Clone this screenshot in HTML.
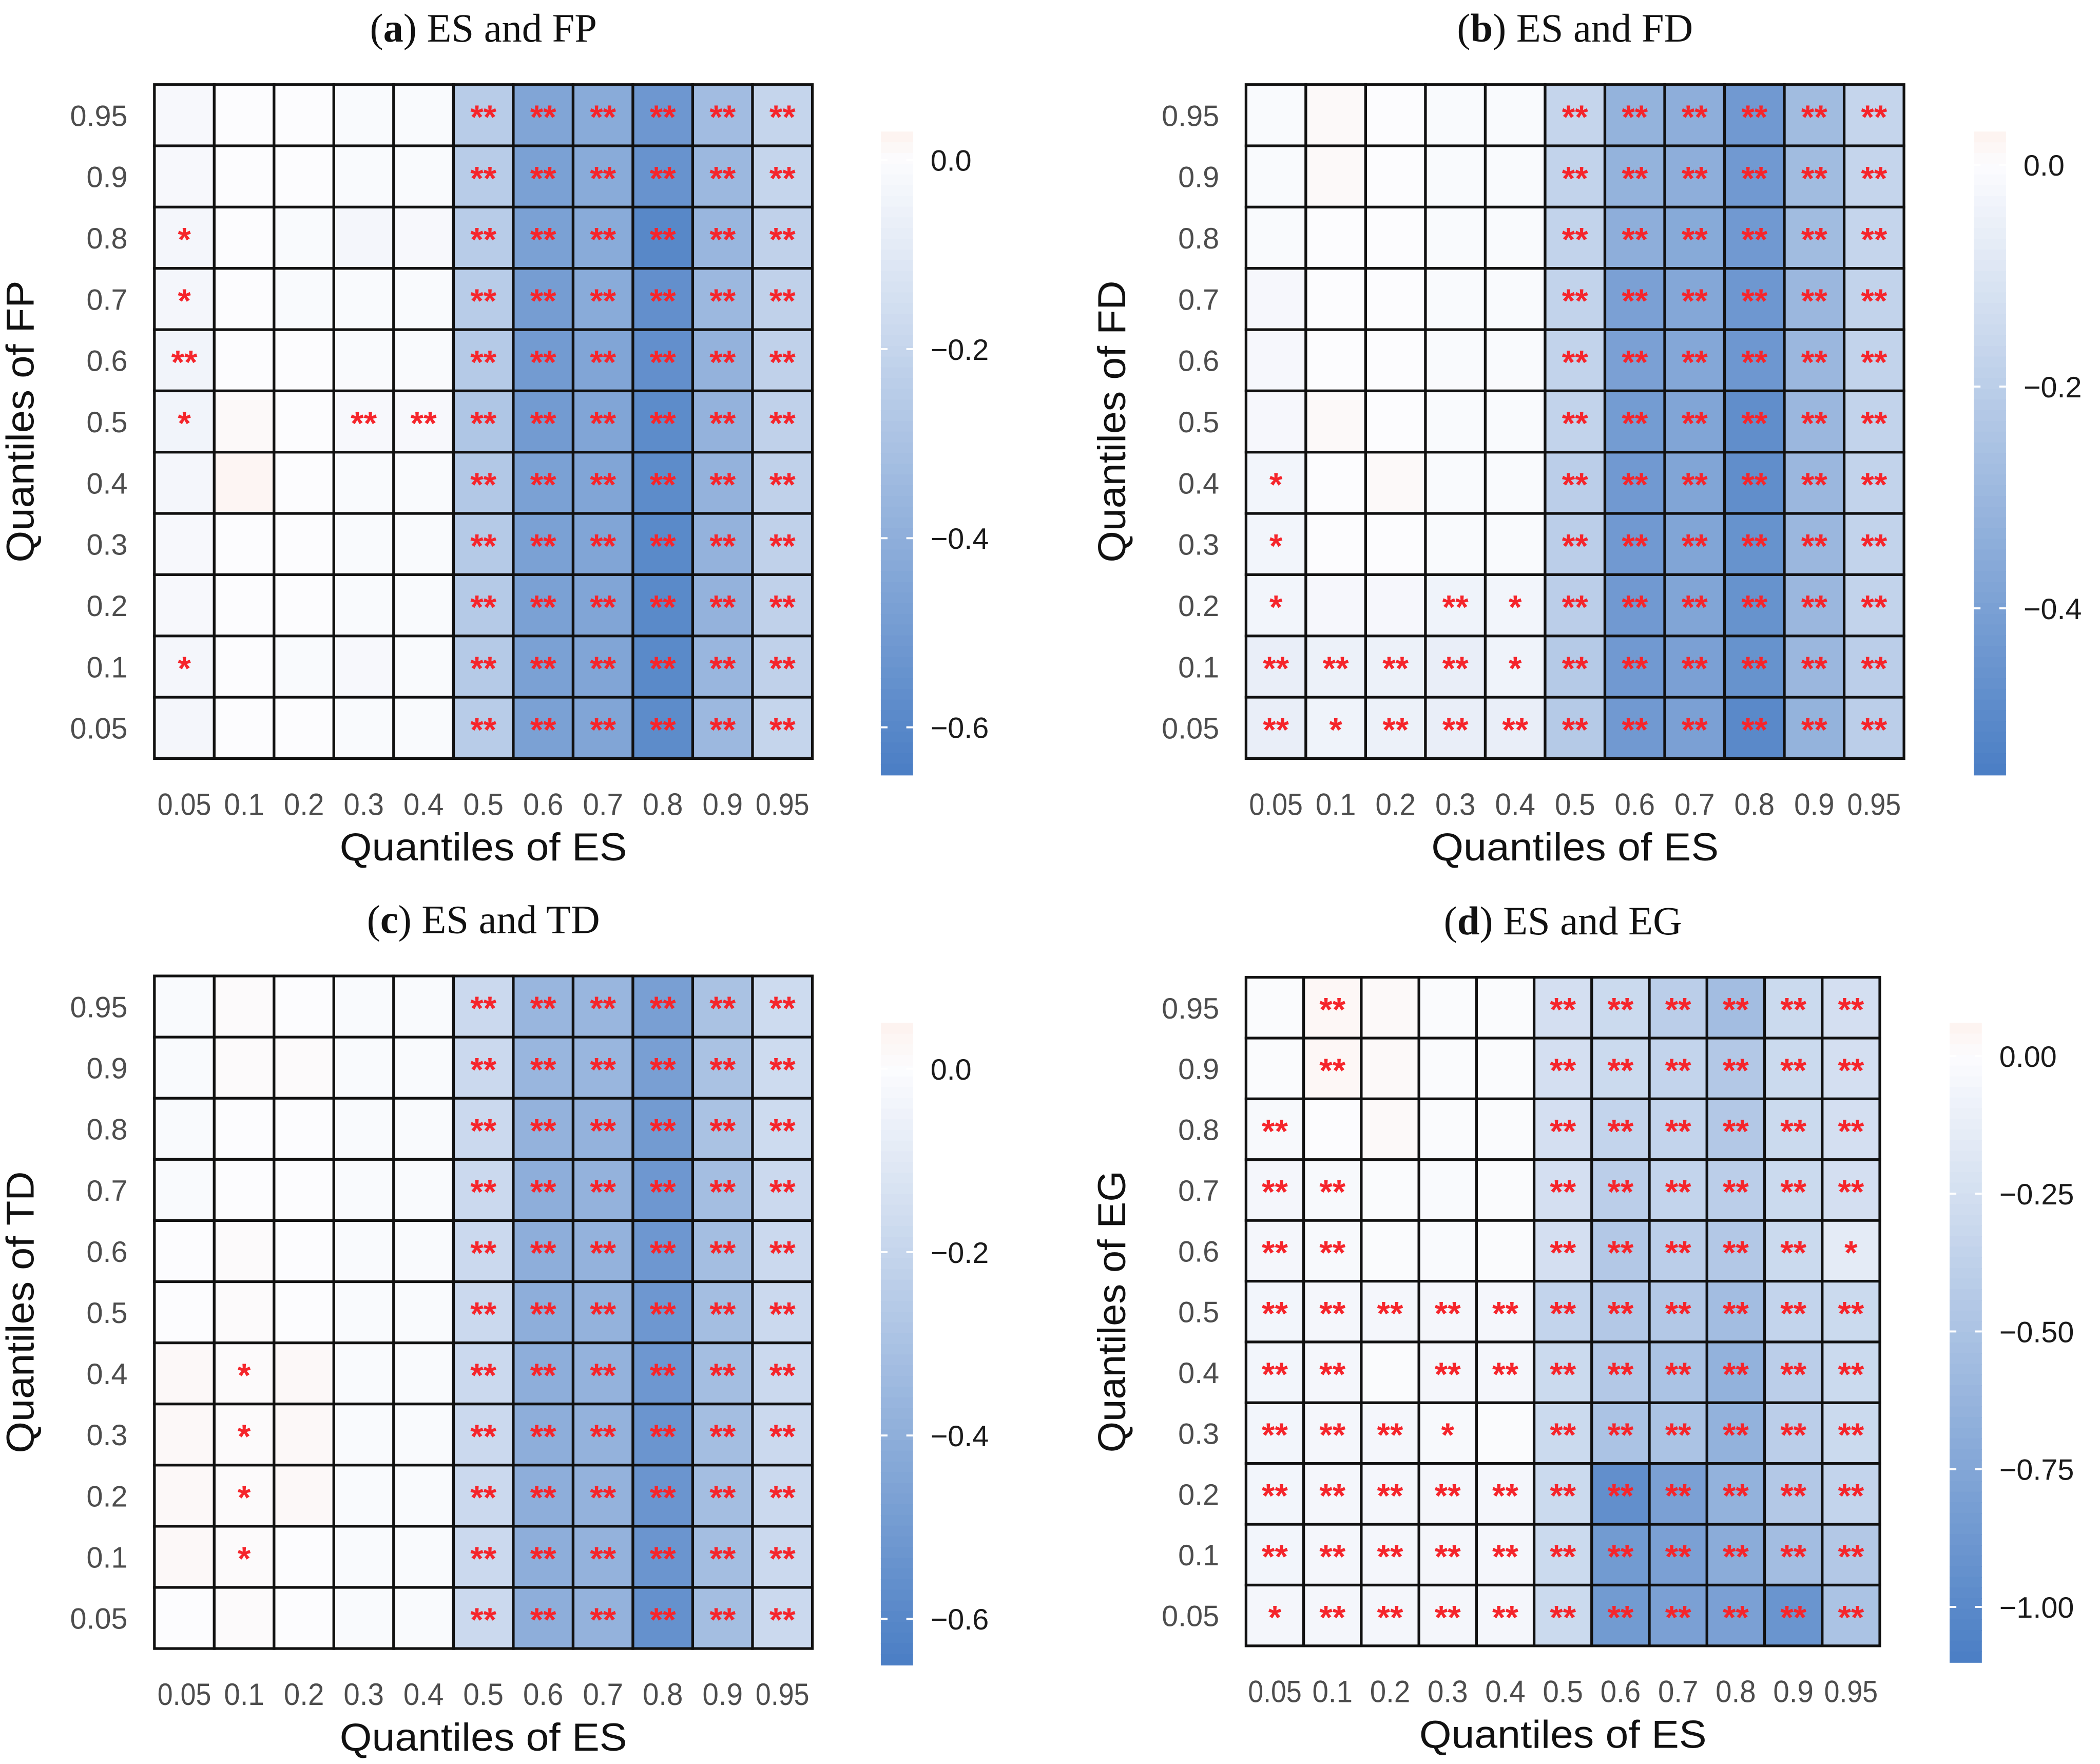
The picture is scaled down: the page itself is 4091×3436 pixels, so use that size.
<!DOCTYPE html>
<html><head><meta charset="utf-8"><style>
html,body{margin:0;padding:0;background:#fff;}
svg{display:block;}
</style></head><body>
<svg id="chart" xmlns="http://www.w3.org/2000/svg" width="4091" height="3436" viewBox="0 0 1564 1314" preserveAspectRatio="none">
<rect width="1564" height="1314" fill="#fff"/>
</svg>
<script>
const xCats = ["0.05","0.1","0.2","0.3","0.4","0.5","0.6","0.7","0.8","0.9","0.95"];
const yCats = ["0.95","0.9","0.8","0.7","0.6","0.5","0.4","0.3","0.2","0.1","0.05"];
const valsA = [
[-0.02,0,0,-0.01,-0.01,-0.25,-0.45,-0.42,-0.52,-0.33,-0.2],
[-0.02,0,0,-0.01,-0.01,-0.25,-0.47,-0.42,-0.54,-0.35,-0.2],
[-0.03,0,-0.01,-0.03,-0.02,-0.25,-0.47,-0.42,-0.6,-0.36,-0.22],
[-0.03,0,-0.01,-0.01,-0.01,-0.25,-0.49,-0.42,-0.56,-0.35,-0.22],
[-0.04,0,0,-0.01,-0.01,-0.26,-0.5,-0.45,-0.56,-0.38,-0.22],
[-0.04,0.01,0,-0.02,-0.02,-0.28,-0.5,-0.45,-0.58,-0.38,-0.22],
[-0.03,0.02,0,-0.01,-0.01,-0.27,-0.47,-0.45,-0.58,-0.38,-0.22],
[-0.02,0,0,-0.01,-0.01,-0.26,-0.47,-0.45,-0.59,-0.38,-0.22],
[-0.02,0,0,-0.01,-0.01,-0.26,-0.47,-0.45,-0.59,-0.38,-0.22],
[-0.03,0,-0.01,-0.02,-0.01,-0.26,-0.47,-0.45,-0.59,-0.36,-0.22],
[-0.03,0,0,-0.01,-0.01,-0.25,-0.47,-0.45,-0.58,-0.35,-0.2]];
const starsA = [
["","","","","","**","**","**","**","**","**"],
["","","","","","**","**","**","**","**","**"],
["*","","","","","**","**","**","**","**","**"],
["*","","","","","**","**","**","**","**","**"],
["**","","","","","**","**","**","**","**","**"],
["*","","","**","**","**","**","**","**","**","**"],
["","","","","","**","**","**","**","**","**"],
["","","","","","**","**","**","**","**","**"],
["","","","","","**","**","**","**","**","**"],
["*","","","","","**","**","**","**","**","**"],
["","","","","","**","**","**","**","**","**"]];
const valsB = [
[-0.01,0.01,0,-0.01,-0.01,-0.17,-0.32,-0.34,-0.43,-0.28,-0.17],
[-0.01,0.01,0,-0.01,-0.01,-0.18,-0.32,-0.34,-0.43,-0.28,-0.17],
[-0.01,0,0,-0.01,-0.01,-0.18,-0.34,-0.36,-0.43,-0.28,-0.17],
[-0.02,0,0,-0.01,-0.01,-0.18,-0.4,-0.37,-0.44,-0.3,-0.18],
[-0.02,0,0,-0.01,-0.01,-0.18,-0.4,-0.37,-0.44,-0.3,-0.18],
[-0.02,0.01,0,-0.01,-0.01,-0.18,-0.42,-0.38,-0.48,-0.3,-0.18],
[-0.03,0,0.01,-0.01,-0.01,-0.2,-0.43,-0.38,-0.48,-0.3,-0.18],
[-0.03,0,0,-0.01,-0.01,-0.2,-0.43,-0.38,-0.46,-0.3,-0.18],
[-0.03,-0.02,-0.02,-0.04,-0.03,-0.2,-0.43,-0.38,-0.46,-0.3,-0.18],
[-0.06,-0.05,-0.05,-0.06,-0.04,-0.22,-0.43,-0.4,-0.46,-0.3,-0.2],
[-0.06,-0.04,-0.05,-0.06,-0.06,-0.22,-0.43,-0.4,-0.5,-0.32,-0.2]];
const starsB = [
["","","","","","**","**","**","**","**","**"],
["","","","","","**","**","**","**","**","**"],
["","","","","","**","**","**","**","**","**"],
["","","","","","**","**","**","**","**","**"],
["","","","","","**","**","**","**","**","**"],
["","","","","","**","**","**","**","**","**"],
["*","","","","","**","**","**","**","**","**"],
["*","","","","","**","**","**","**","**","**"],
["*","","","**","*","**","**","**","**","**","**"],
["**","**","**","**","*","**","**","**","**","**","**"],
["**","*","**","**","**","**","**","**","**","**","**"]];
const valsC = [
[-0.01,0.01,0,-0.01,-0.01,-0.18,-0.36,-0.36,-0.48,-0.3,-0.17],
[-0.01,0.01,0.01,-0.01,-0.01,-0.18,-0.36,-0.36,-0.48,-0.3,-0.17],
[-0.01,0,0,-0.01,-0.01,-0.18,-0.38,-0.38,-0.5,-0.3,-0.17],
[-0.01,0,0,-0.01,-0.01,-0.18,-0.4,-0.38,-0.52,-0.32,-0.18],
[0,0.01,0,-0.01,-0.01,-0.18,-0.4,-0.38,-0.52,-0.32,-0.18],
[0,0.01,0,-0.01,-0.01,-0.18,-0.4,-0.38,-0.52,-0.32,-0.18],
[0.02,0.01,0.02,-0.01,-0.01,-0.18,-0.4,-0.38,-0.52,-0.32,-0.18],
[0.02,0.01,0.02,-0.01,-0.01,-0.18,-0.4,-0.38,-0.53,-0.32,-0.18],
[0.02,0.01,0.02,-0.01,-0.01,-0.18,-0.4,-0.38,-0.53,-0.32,-0.18],
[0.02,0.01,0,-0.01,-0.01,-0.18,-0.4,-0.38,-0.53,-0.32,-0.18],
[0,0.01,0,-0.01,-0.01,-0.18,-0.4,-0.38,-0.55,-0.32,-0.18]];
const starsC = [
["","","","","","**","**","**","**","**","**"],
["","","","","","**","**","**","**","**","**"],
["","","","","","**","**","**","**","**","**"],
["","","","","","**","**","**","**","**","**"],
["","","","","","**","**","**","**","**","**"],
["","","","","","**","**","**","**","**","**"],
["","*","","","","**","**","**","**","**","**"],
["","*","","","","**","**","**","**","**","**"],
["","*","","","","**","**","**","**","**","**"],
["","*","","","","**","**","**","**","**","**"],
["","","","","","**","**","**","**","**","**"]];
const valsD = [
[-0.01,0.03,0.02,-0.01,-0.01,-0.25,-0.3,-0.4,-0.55,-0.3,-0.25],
[-0.01,0.03,0.02,-0.01,-0.01,-0.25,-0.3,-0.35,-0.45,-0.3,-0.25],
[-0.03,0,0.02,-0.01,-0.01,-0.25,-0.35,-0.35,-0.45,-0.3,-0.25],
[-0.05,-0.03,-0.01,-0.02,-0.01,-0.25,-0.4,-0.35,-0.4,-0.3,-0.25],
[-0.05,-0.03,-0.01,-0.02,-0.01,-0.25,-0.45,-0.4,-0.45,-0.3,-0.15],
[-0.06,-0.05,-0.05,-0.05,-0.05,-0.35,-0.45,-0.45,-0.55,-0.35,-0.3],
[-0.06,-0.05,-0.01,-0.05,-0.05,-0.3,-0.45,-0.5,-0.65,-0.4,-0.3],
[-0.06,-0.05,-0.05,-0.03,-0.01,-0.3,-0.5,-0.5,-0.65,-0.4,-0.3],
[-0.06,-0.05,-0.05,-0.05,-0.05,-0.3,-0.95,-0.8,-0.65,-0.45,-0.35],
[-0.06,-0.05,-0.05,-0.05,-0.05,-0.3,-0.85,-0.8,-0.7,-0.55,-0.45],
[-0.05,-0.05,-0.05,-0.05,-0.05,-0.3,-0.85,-0.8,-0.8,-0.9,-0.5]];
const starsD = [
["","**","","","","**","**","**","**","**","**"],
["","**","","","","**","**","**","**","**","**"],
["**","","","","","**","**","**","**","**","**"],
["**","**","","","","**","**","**","**","**","**"],
["**","**","","","","**","**","**","**","**","*"],
["**","**","**","**","**","**","**","**","**","**","**"],
["**","**","","**","**","**","**","**","**","**","**"],
["**","**","**","*","","**","**","**","**","**","**"],
["**","**","**","**","**","**","**","**","**","**","**"],
["**","**","**","**","**","**","**","**","**","**","**"],
["*","**","**","**","**","**","**","**","**","**","**"]];
const ticksA = [0.0,-0.2,-0.4,-0.6], tickLblA = ["0.0","\u22120.2","\u22120.4","\u22120.6"];
const ticksB = [0.0,-0.2,-0.4], tickLblB = ["0.0","\u22120.2","\u22120.4"];
const ticksC = [0.0,-0.2,-0.4,-0.6], tickLblC = ["0.0","\u22120.2","\u22120.4","\u22120.6"];
const ticksD = [0,-0.25,-0.5,-0.75,-1.0], tickLblD = ["0.00","\u22120.25","\u22120.50","\u22120.75","\u22121.00"];

const NS="http://www.w3.org/2000/svg";
const svg=document.getElementById('chart');
function mk(tag,attrs,parent,text){const e=document.createElementNS(NS,tag);for(const k in attrs)e.setAttribute(k,attrs[k]);if(text!==undefined)e.textContent=text;(parent||svg).appendChild(e);return e;}
function lerp(a,b,t){return Math.round(a+(b-a)*t);}
function color(v,vmin,vmax){
  if(v>=0){const t=Math.min(1,v/vmax);return `rgb(${lerp(252,253,t)},${lerp(252,242,t)},${lerp(254,238,t)})`;}
  const t=Math.min(1,v/vmin);return `rgb(${lerp(252,74,t)},${lerp(252,126,t)},${lerp(254,196,t)})`;
}
function panel(p){
  const g=mk('g',{},svg);
  
  
  const cw=(p.x1-p.x0)/xCats.length, ch=(p.y1-p.y0)/yCats.length;
  const xs=i=>p.x0+i*cw, ys=j=>p.y0+j*ch;
  for(let j=0;j<yCats.length;j++)for(let i=0;i<xCats.length;i++){
    const r=mk('rect',{x:xs(i),y:ys(j),width:cw,height:ch,fill:color(p.vals[j][i],p.vmin,p.vmax),stroke:'#111','stroke-width':2},g);
    
    
    const s=p.stars[j][i];
    if(s){const t=mk('text',{x:xs(i)+cw/2,y:ys(j)+ch/2+10,'text-anchor':'middle','font-family':'Liberation Sans, sans-serif','font-size':25,'font-weight':'bold',fill:'#f5252b'},g,s);
      }
  }
  for(let i=0;i<xCats.length;i++){const t=mk('text',{x:xs(i)+cw/2,y:p.y1+42,'text-anchor':'middle','font-family':'Liberation Sans, sans-serif','font-size':23,fill:'#4d4d4d',textLength:xCats[i].length>3?40:30,lengthAdjust:'spacingAndGlyphs'},g,xCats[i]);
    }
  for(let j=0;j<yCats.length;j++){const t=mk('text',{x:p.x0-20,y:ys(j)+ch/2+8,'text-anchor':'end','font-family':'Liberation Sans, sans-serif','font-size':22,fill:'#4d4d4d'},g,yCats[j]);
    }
  const xt=mk('text',{x:(p.x0+p.x1)/2,y:p.y1+76,'text-anchor':'middle','font-family':'Liberation Sans, sans-serif','font-size':29,fill:'#111',textLength:214,lengthAdjust:'spacingAndGlyphs'},g,'Quantiles of ES');
  
  const cy=(p.y0+p.y1)/2, cx=p.x0-90;
  const yt=mk('text',{x:cx,y:cy,'text-anchor':'middle','font-family':'Liberation Sans, sans-serif','font-size':29,fill:'#111',transform:`rotate(-90 ${cx} ${cy})`,textLength:210,lengthAdjust:'spacingAndGlyphs'},g,'Quantiles of '+p.yname);
  
  const tt=mk('text',{x:(p.x0+p.x1)/2,y:p.y0-32,'text-anchor':'middle','font-family':'Liberation Serif, serif','font-size':30,fill:'#111'},g);
  
  mk('tspan',{},tt,'(');mk('tspan',{'font-weight':'bold'},tt,p.id);mk('tspan',{},tt,') ES and '+p.yname);
  const cb=mk('g',{},g);
  const n=60, bh=(p.cb1-p.cb0)/n;
  for(let k=0;k<n;k++){const v=p.vmax+(p.vmin-p.vmax)*(k+0.5)/n;mk('rect',{x:p.cbx,y:p.cb0+k*bh,width:24,height:bh+0.6,fill:color(v,p.vmin,p.vmax)},cb);}
  p.ticks.forEach((tv,k)=>{const yy=p.cb0+(p.vmax-tv)/(p.vmax-p.vmin)*(p.cb1-p.cb0);
    mk('line',{x1:p.cbx,x2:p.cbx+5,y1:yy,y2:yy,stroke:'#fff','stroke-width':1.5},cb);
    mk('line',{x1:p.cbx+19,x2:p.cbx+24,y1:yy,y2:yy,stroke:'#fff','stroke-width':1.5},cb);
    const t=mk('text',{x:p.cbx+37,y:yy+8,'font-family':'Liberation Sans, sans-serif','font-size':22,fill:'#1a1a1a'},cb,p.tickLbl[k]);
    });
}
panel({id:'a',yname:'FP',x0:115,x1:605,y0:63,y1:565,vals:valsA,stars:starsA,vmin:-0.65,vmax:0.03,cbx:656,cb0:98,cb1:577,ticks:ticksA,tickLbl:tickLblA});
panel({id:'b',yname:'FD',x0:928,x1:1418,y0:63,y1:565,vals:valsB,stars:starsB,vmin:-0.55,vmax:0.03,cbx:1470,cb0:98,cb1:577,ticks:ticksB,tickLbl:tickLblB});
panel({id:'c',yname:'TD',x0:115,x1:605,y0:727,y1:1228,vals:valsC,stars:starsC,vmin:-0.65,vmax:0.05,cbx:656,cb0:762,cb1:1240,ticks:ticksC,tickLbl:tickLblC});
panel({id:'d',yname:'EG',x0:928,x1:1400,y0:728,y1:1226,vals:valsD,stars:starsD,vmin:-1.1,vmax:0.06,cbx:1452,cb0:762,cb1:1238,ticks:ticksD,tickLbl:tickLblD});
</script>
</body></html>
